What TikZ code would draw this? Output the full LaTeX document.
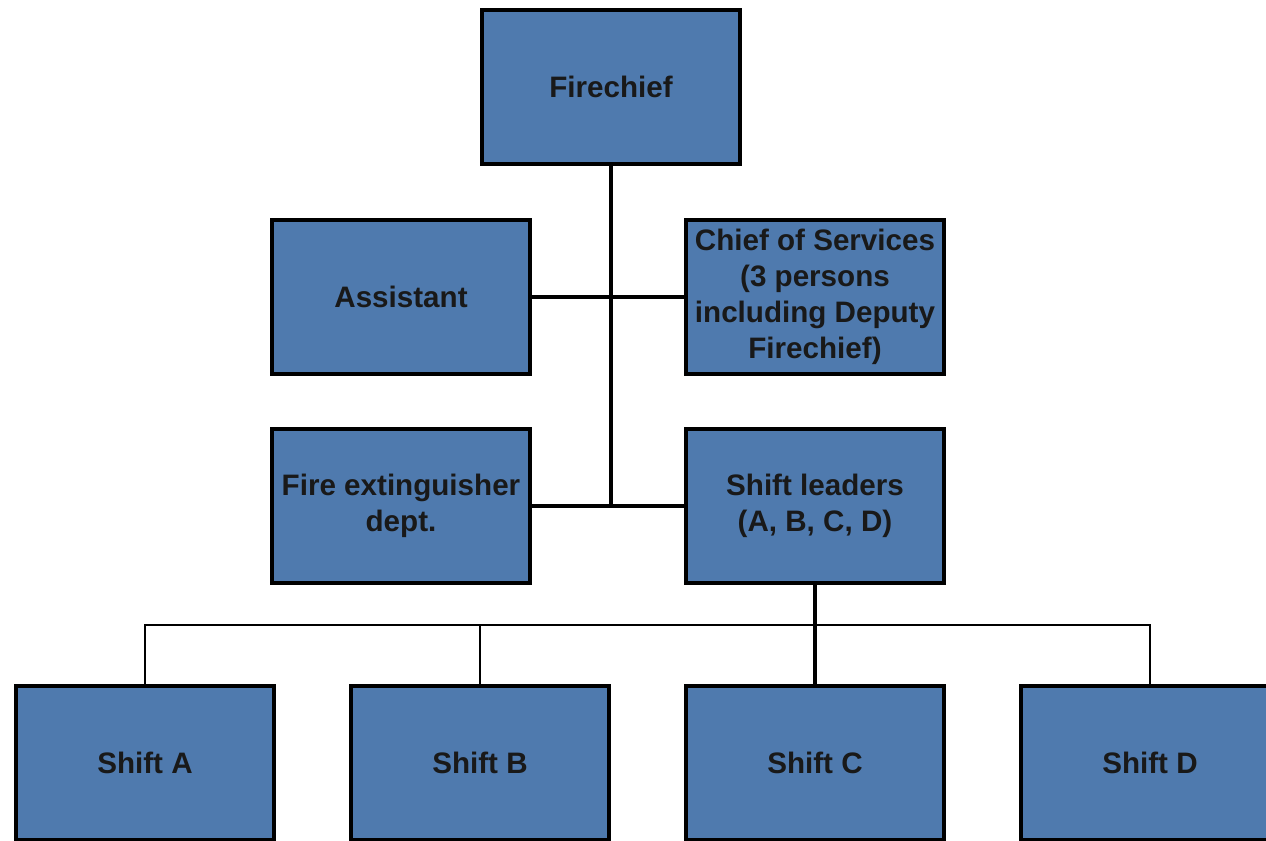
\documentclass[tikz,border=0pt]{standalone}
\usepackage{fontspec}
\setmainfont{Liberation Sans}
\definecolor{boxblue}{RGB}{79,122,174}
\begin{document}
\begin{tikzpicture}[x=0.5pt,y=-0.5pt,
  orgbox/.style={draw=black,fill=boxblue,line width=2pt,minimum width=129pt,minimum height=77pt,
    inner sep=2pt,align=center,font=\fontsize{14.8}{17.9}\selectfont\bfseries,text=black!90},
  conn/.style={line width=1.8pt},
  busline/.style={line width=1.4pt}]
\useasboundingbox (0,0) rectangle (1266,841);
\clip (0,0) rectangle (1266,841);
\node[orgbox] (fire) at (611,87) {Firechief};
\node[orgbox] (asst) at (401,297) {Assistant};
\node[orgbox] (cos) at (815,297) {Chief of Services\\(3 persons\\including Deputy\\Firechief)};
\node[orgbox] (fed) at (401,506) {Fire extinguisher\\dept.};
\node[orgbox] (sl) at (815,506) {Shift leaders\\(A, B, C, D)};
\node[orgbox] (sA) at (145,763) {Shift A};
\node[orgbox] (sB) at (480,763) {Shift B};
\node[orgbox] (sC) at (815,763) {Shift C};
\node[orgbox] (sD) at (1150,763) {Shift D};
\coordinate (bus) at (815,625);
\draw[conn] (fire.south) -- (fire.south |- fed.east);
\draw[conn] (asst.east) -- (cos.west);
\draw[conn] (fed.east) -- (sl.west);
\draw[conn] (sl.south) -- (sC.north);
\draw[busline] (sA.north) -- (sA.north |- bus) -- (sD.north |- bus) -- (sD.north);
\draw[busline] (sB.north) -- (sB.north |- bus);
\end{tikzpicture}
\end{document}
